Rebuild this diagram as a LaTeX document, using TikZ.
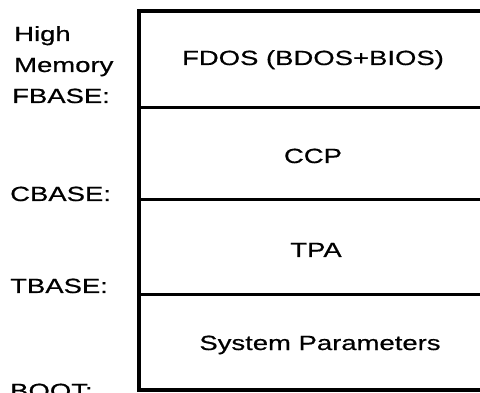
\documentclass[tikz,border=0pt]{standalone}
\usepackage{fontspec}
\newfontfamily\widefont[FakeStretch=1.34,FakeBold=0.6]{Liberation Sans}
\begin{document}
\begin{tikzpicture}[x=1pt,y=-1pt,
  lbl/.style={anchor=base west,inner sep=0pt,font=\widefont\fontsize{20.5}{24}\selectfont},
  txt/.style={anchor=base,inner sep=0pt,font=\widefont\fontsize{20.5}{24}\selectfont},
  wall/.style={line width=3.5pt},
  divider/.style={line width=3pt}]
\useasboundingbox (0,0) rectangle (480,393);
\clip (0,0) rectangle (480,393);
% box outline
\coordinate (tl) at (139,11);
\coordinate (tr) at (500,11);
\coordinate (bl) at (139,390);
\coordinate (br) at (500,390);
\coordinate (f1) at (139,108);
\coordinate (f2) at (500,108);
\coordinate (c1) at (139,200);
\coordinate (c2) at (500,200);
\coordinate (t1) at (139,295);
\coordinate (t2) at (500,295);
\draw[wall] (tr) -- (tl) -- (bl) -- (br);
\draw[divider] (f1) -- (f2);
\draw[divider] (c1) -- (c2);
\draw[divider] (t1) -- (t2);
% labels on left
\node[lbl] (high) at (14,41) {High};
\node[lbl] (mem) at (14,72) {Memory};
\node[lbl] (fbase) at (12,103) {FBASE:};
\node[lbl] (cbase) at (10,201) {CBASE:};
\node[lbl] (tbase) at (10,293) {TBASE:};
\node[lbl] (boot) at (10,398) {BOOT:};
% region texts
\node[txt] (fdos) at (313,65) {FDOS (BDOS+BIOS)};
\node[txt] (ccp) at (313,163) {CCP};
\node[txt] (tpa) at (316,257) {TPA};
\node[txt] (sys) at (320,350) {System Parameters};
\end{tikzpicture}
\end{document}
